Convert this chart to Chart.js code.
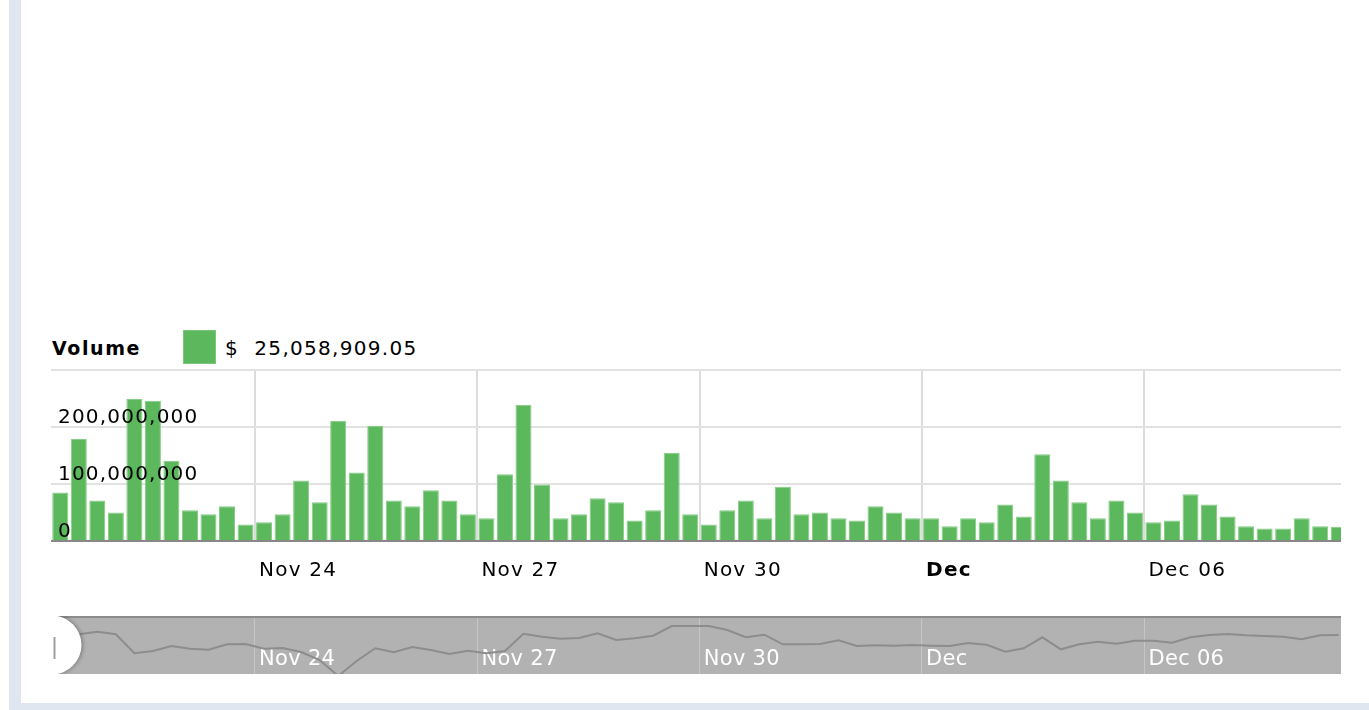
<!DOCTYPE html>
<html>
<head>
<meta charset="utf-8">
<title>Volume</title>
<script src="https://cdn.jsdelivr.net/npm/chart.js@4.4.1/dist/chart.umd.min.js"></script>
<style>
  html, body { margin: 0; padding: 0; background: #fff; }
  body { width: 1369px; height: 710px; position: relative; overflow: hidden; font-family: "DejaVu Sans", Verdana, sans-serif; }
  .strip-left { position: absolute; left: 9px; top: 0; width: 12px; height: 710px; background: #dfe6f0; }
  .strip-bottom { position: absolute; left: 9px; top: 703px; width: 1360px; height: 7px; background: #dfe6f0; }
  .legend-name { position: absolute; left: 52px; top: 338px; line-height: 20px; font-size: 19px; font-weight: bold; letter-spacing: 1.6px; color: #000; }
  .legend-swatch { position: absolute; left: 183px; top: 330px; width: 31px; height: 32px; background: #5cb85c; border: 1px solid #7cc67c; }
  .legend-value { position: absolute; left: 225px; top: 337px; line-height: 22px; font-size: 20px; letter-spacing: 1.3px; color: #000; white-space: pre; }
  .clip { position: absolute; overflow: hidden; }
  #mainBox { left: 51px; top: 360px; width: 1290px; height: 240px; }
  #navBox { left: 51px; top: 616px; width: 1290px; height: 58px; }
  canvas { position: absolute; left: 0; top: 0; }
</style>
</head>
<body>
<div class="strip-left"></div>
<div class="strip-bottom"></div>

<div class="legend-name">Volume</div>
<div class="legend-swatch"></div>
<div class="legend-value" id="legendValue"></div>

<div class="clip" id="mainBox"><canvas id="volume" width="1297" height="240"></canvas></div>
<div class="clip" id="navBox"><canvas id="navigator" width="1297" height="58"></canvas></div>

<script>
// 6-hour buckets, Nov 21 06:00 -> Dec 08 12:00
var categories = [
  'Nov 21 06:00', 'Nov 21 12:00', 'Nov 21 18:00',
  'Nov 22 00:00', 'Nov 22 06:00', 'Nov 22 12:00', 'Nov 22 18:00',
  'Nov 23 00:00', 'Nov 23 06:00', 'Nov 23 12:00', 'Nov 23 18:00',
  'Nov 24 00:00', 'Nov 24 06:00', 'Nov 24 12:00', 'Nov 24 18:00',
  'Nov 25 00:00', 'Nov 25 06:00', 'Nov 25 12:00', 'Nov 25 18:00',
  'Nov 26 00:00', 'Nov 26 06:00', 'Nov 26 12:00', 'Nov 26 18:00',
  'Nov 27 00:00', 'Nov 27 06:00', 'Nov 27 12:00', 'Nov 27 18:00',
  'Nov 28 00:00', 'Nov 28 06:00', 'Nov 28 12:00', 'Nov 28 18:00',
  'Nov 29 00:00', 'Nov 29 06:00', 'Nov 29 12:00', 'Nov 29 18:00',
  'Nov 30 00:00', 'Nov 30 06:00', 'Nov 30 12:00', 'Nov 30 18:00',
  'Dec 01 00:00', 'Dec 01 06:00', 'Dec 01 12:00', 'Dec 01 18:00',
  'Dec 02 00:00', 'Dec 02 06:00', 'Dec 02 12:00', 'Dec 02 18:00',
  'Dec 03 00:00', 'Dec 03 06:00', 'Dec 03 12:00', 'Dec 03 18:00',
  'Dec 04 00:00', 'Dec 04 06:00', 'Dec 04 12:00', 'Dec 04 18:00',
  'Dec 05 00:00', 'Dec 05 06:00', 'Dec 05 12:00', 'Dec 05 18:00',
  'Dec 06 00:00', 'Dec 06 06:00', 'Dec 06 12:00', 'Dec 06 18:00',
  'Dec 07 00:00', 'Dec 07 06:00', 'Dec 07 12:00', 'Dec 07 18:00',
  'Dec 08 00:00', 'Dec 08 06:00', 'Dec 08 12:00'
]

// volume in $
var volumes = [
  85e6, 179e6, 71e6, 50e6, 249e6, 246e6, 141e6, 54e6, 47e6, 61e6,
  29e6, 33e6, 47e6, 106e6, 68e6, 211e6, 120e6, 202e6, 71e6, 61e6,
  89e6, 71e6, 47e6, 40e6, 117e6, 239e6, 99e6, 40e6, 47e6, 75e6,
  68e6, 36e6, 54e6, 155e6, 47e6, 29e6, 54e6, 71e6, 40e6, 95e6,
  47e6, 50e6, 40e6, 36e6, 61e6, 50e6, 40e6, 40e6, 26e6, 40e6,
  33e6, 64e6, 43e6, 152e6, 106e6, 68e6, 40e6, 71e6, 50e6, 33e6,
  36e6, 82e6, 64e6, 43e6, 26e6, 22e6, 22e6, 40e6, 26e6, 25058909.05
]

// price line of the scrollbar (relative units)
var navPrices = [
  40, 39.7, 42.3, 39.7, 20.7, 23, 28, 25.3, 24.3, 29.7,
  30, 25.3, 26, 22, 14, -2, 13, 25.7, 21.7, 27,
  24, 20, 23.3, 20.7, 23, 40.3, 37.3, 35.3, 36, 40.7,
  34, 35.7, 38.3, 48, 48, 48, 44, 36.7, 39.3, 29.7,
  29.7, 30, 33.7, 28, 28.7, 28.3, 29, 28.3, 28, 31,
  29.3, 22.3, 25.7, 36.7, 24.7, 29.7, 32.3, 30.3, 33.3, 33.3,
  31.3, 36.7, 39, 40, 38.7, 38, 37.3, 34.7, 38.7, 39
]

var tickCategories = ['Nov 24 00:00', 'Nov 27 00:00', 'Nov 30 00:00', 'Dec 03 00:00', 'Dec 06 00:00']
var tickLabels = ['Nov 24', 'Nov 27', 'Nov 30', 'Dec', 'Dec 06']
var monthStart = 'Dec'

var FONT = '"DejaVu Sans", Verdana, sans-serif'

document.getElementById('legendValue').textContent =
  '$  ' + volumes[volumes.length - 1].toLocaleString('en-US', { minimumFractionDigits: 2, maximumFractionDigits: 2 })

function tickText(index) {
  var k = tickCategories.indexOf(categories[index])
  return k < 0 ? '' : tickLabels[k]
}

function spacing(px) {
  return { id: 'spacing', beforeDraw: function (chart) { chart.ctx.letterSpacing = px } }
}

// keep the plot area glued to the canvas edges
function noPad(s) {
  s.paddingLeft = 0
  s.paddingRight = 0
  s.paddingTop = 0
  s.paddingBottom = 0
}

var volumeChart = new Chart(document.getElementById('volume').getContext('2d'), {
  type: 'bar',
  data: {
    labels: categories,
    datasets: [{
      label: 'Volume',
      data: volumes,
      backgroundColor: '#5cb85c',
      borderColor: '#86cc86',
      borderWidth: { top: 1, left: 1, right: 1, bottom: 0 },
      categoryPercentage: 1,
      barPercentage: 0.865
    }]
  },
  options: {
    responsive: false,
    animation: false,
    events: [],
    layout: { padding: { top: 10, left: 0, right: 0, bottom: 0 } },
    plugins: { legend: { display: false }, tooltip: { enabled: false } },
    scales: {
      x: {
        offset: true,
        grid: {
          offset: true,
          drawTicks: false,
          lineWidth: 2,
          color: function (c) { return tickText(c.index) ? '#dcdcdc' : 'rgba(0,0,0,0)' }
        },
        border: { display: true, color: 'rgba(0,0,0,0.4)', width: 2, z: 1 },
        ticks: {
          autoSkip: false,
          maxRotation: 0,
          minRotation: 0,
          align: 'start',
          labelOffset: -5,
          padding: 18,
          color: '#000',
          font: function (c) {
            return { family: FONT, size: 20, weight: tickText(c.index) === monthStart ? 'bold' : 'normal' }
          },
          callback: function (value, index) { return tickText(index) }
        },
        afterFit: function (s) { s.height = 59; noPad(s) }
      },
      y: {
        min: 0,
        max: 300e6,
        ticks: {
          stepSize: 100e6,
          mirror: true,
          padding: 7,
          labelOffset: -9,
          z: 1,
          color: '#000',
          font: { family: FONT, size: 20 },
          callback: function (v) { return v >= 300e6 ? '' : v.toLocaleString('en-US') }
        },
        grid: { drawTicks: false, lineWidth: 2, color: '#e2e2e2' },
        border: { display: false },
        afterFit: function (s) { s.width = 0; noPad(s) }
      }
    }
  },
  plugins: [spacing('1.2px')]
})

var navDecor = {
  id: 'navDecor',
  beforeDraw: function (chart) {
    var ctx = chart.ctx, a = chart.chartArea
    ctx.save()
    ctx.fillStyle = '#b2b2b2'
    ctx.fillRect(a.left, a.top, a.right - a.left, a.bottom - a.top)
    ctx.restore()
  },
  afterDraw: function (chart) {
    var ctx = chart.ctx, a = chart.chartArea
    ctx.save()
    ctx.fillStyle = '#8c8c8c'
    ctx.fillRect(a.left, a.top, a.right - a.left, 2)
    // scrollbar grip
    ctx.shadowColor = 'rgba(0,0,0,0.35)'
    ctx.shadowBlur = 4
    ctx.shadowOffsetX = 1
    ctx.fillStyle = '#fff'
    ctx.beginPath()
    ctx.arc(a.left + 1, (a.top + a.bottom) / 2, 29.5, 0, Math.PI * 2)
    ctx.fill()
    ctx.shadowColor = 'rgba(0,0,0,0)'
    ctx.fillStyle = '#a0a0a0'
    ctx.fillRect(a.left + 2.5, a.top + 21, 2, 22)
    ctx.restore()
  }
}

var navChart = new Chart(document.getElementById('navigator').getContext('2d'), {
  type: 'line',
  data: {
    labels: categories,
    datasets: [{
      data: navPrices,
      borderColor: '#8d8d8d',
      borderWidth: 2,
      pointRadius: 0,
      tension: 0,
      fill: false
    }]
  },
  options: {
    responsive: false,
    animation: false,
    events: [],
    layout: { padding: 0 },
    plugins: { legend: { display: false }, tooltip: { enabled: false } },
    scales: {
      x: {
        offset: true,
        grid: {
          offset: true,
          drawTicks: false,
          lineWidth: 1,
          color: function (c) { return tickText(c.index) ? '#c6c6c6' : 'rgba(0,0,0,0)' }
        },
        border: { display: false },
        ticks: {
          autoSkip: false,
          maxRotation: 0,
          minRotation: 0,
          mirror: true,
          align: 'start',
          labelOffset: -5,
          padding: 2,
          color: '#fff',
          font: { family: FONT, size: 21 },
          callback: function (value, index) { return tickText(index) }
        },
        afterFit: function (s) { s.height = 0; noPad(s) }
      },
      y: { display: false, min: 0, max: 58 }
    }
  },
  plugins: [navDecor, spacing('0.3px')]
})
</script>
</body>
</html>
